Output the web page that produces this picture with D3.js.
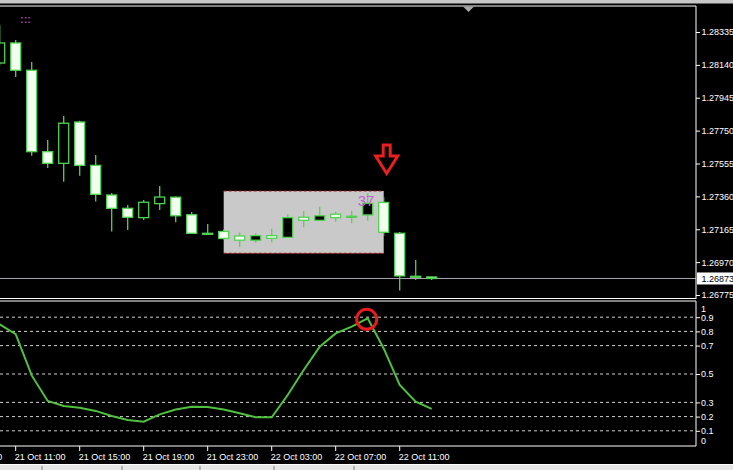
<!DOCTYPE html>
<html><head><meta charset="utf-8">
<script src="https://cdn.jsdelivr.net/npm/d3@7"></script>
<style>html,body{margin:0;padding:0;background:#000;overflow:hidden}svg{display:block}</style>
</head><body>
<svg id="c" width="733" height="470"></svg>
<script>
const times = ["21 Oct 10:00","21 Oct 11:00","21 Oct 12:00","21 Oct 13:00","21 Oct 14:00","21 Oct 15:00","21 Oct 16:00","21 Oct 17:00","21 Oct 18:00","21 Oct 19:00","21 Oct 20:00","21 Oct 21:00","21 Oct 22:00","21 Oct 23:00",
"22 Oct 00:00","22 Oct 01:00","22 Oct 02:00","22 Oct 03:00","22 Oct 04:00","22 Oct 05:00","22 Oct 06:00","22 Oct 07:00","22 Oct 08:00","22 Oct 09:00","22 Oct 10:00","22 Oct 11:00","22 Oct 12:00","22 Oct 13:00"];
const open  = [1.28151,1.28270,1.28108,1.27625,1.27556,1.27801,1.27544,1.27368,1.27289,1.27234,1.27317,1.27355,1.27251,1.27141,1.27152,1.27125,1.27100,1.27127,1.27117,1.27236,1.27218,1.27254,1.27237,1.27250,1.27324,1.27141,1.26886,1.26882];
const high  = [1.28377,1.28288,1.28157,1.27694,1.27837,1.27809,1.27605,1.27380,1.27309,1.27339,1.27422,1.27359,1.27267,1.27196,1.27164,1.27145,1.27141,1.27168,1.27254,1.27273,1.27299,1.27269,1.27275,1.27378,1.27356,1.27149,1.26983,1.26885];
const low   = [1.28139,1.28068,1.27601,1.27528,1.27447,1.27483,1.27329,1.27151,1.27161,1.27220,1.27279,1.27206,1.27140,1.27134,1.27104,1.27060,1.27085,1.27088,1.27116,1.27177,1.27217,1.27210,1.27200,1.27216,1.27125,1.26801,1.26864,1.26864];
const close = [1.28270,1.28108,1.27625,1.27556,1.27794,1.27544,1.27372,1.27289,1.27236,1.27325,1.27356,1.27245,1.27141,1.27139,1.27110,1.27100,1.27127,1.27111,1.27234,1.27218,1.27245,1.27234,1.27242,1.27319,1.27147,1.26888,1.26882,1.26873];
const osc = [0.85,0.78,0.49,0.31,0.275,0.263,0.24,0.204,0.176,0.164,0.216,0.25,0.27,0.268,0.25,0.223,0.195,0.195,0.352,0.528,0.692,0.786,0.833,0.892,0.68,0.423,0.305,0.254];
const priceTicks = [1.28335,1.28140,1.27945,1.27750,1.27555,1.27360,1.27165,1.26970,1.26775];
const bidPrice = 1.26873;
const oscLevels = [0.9,0.8,0.7,0.5,0.3,0.2,0.1];
const oscLabelVals = [1,0.9,0.8,0.7,0.5,0.3,0.2,0.1,0];
const timeTicks = ["21 Oct 07:00","21 Oct 11:00","21 Oct 15:00","21 Oct 19:00","21 Oct 23:00","22 Oct 03:00","22 Oct 07:00","22 Oct 11:00"];
const boxFrom = "22 Oct 00:00", boxTo = "22 Oct 10:00", boxTop = 1.27392, boxBottom = 1.27022;
const signalTime = "22 Oct 10:00", arrowTop = 1.27665, arrowTip = 1.27496;
const countLabel = "37", countTime = "22 Oct 09:00";
const peakTime = "22 Oct 09:00";

const toHour = s => { const p = s.split(" "); const hm = p[2].split(":"); return (+p[0]-21)*24 + (+hm[0]); };
const svg = d3.select("#c");
const W = 733, FR = 696;
const x = d3.scaleLinear().domain([10,37]).range([-0.3,431.7]);
const y = d3.scaleLinear().domain([1.26775,1.28335]).range([295,32]);
const yo = d3.scaleLinear().domain([0,1]).range([445,303]);
const GREEN = "#52d252", FONT = "Liberation Sans, Arial, sans-serif";

svg.append("rect").attr("width",W).attr("height",470).attr("fill","#000");
svg.append("rect").attr("x",0).attr("y",0).attr("width",W).attr("height",3.5).attr("fill","#c8c8c8");

const defs = svg.append("defs");
defs.append("clipPath").attr("id","mc").append("rect").attr("x",0).attr("y",7).attr("width",FR).attr("height",291);
defs.append("clipPath").attr("id","oc").append("rect").attr("x",0).attr("y",302).attr("width",FR).attr("height",143.5);
const main = svg.append("g").attr("clip-path","url(#mc)");

const bx0 = x(toHour(boxFrom)), bx1 = x(toHour(boxTo));
main.append("rect").attr("x",bx0).attr("y",y(boxTop)).attr("width",bx1-bx0).attr("height",y(boxBottom)-y(boxTop)).attr("fill","#c9c9c9");
[boxTop,boxBottom].forEach(p=>main.append("line").attr("x1",bx0).attr("x2",bx1).attr("y1",y(p)).attr("y2",y(p))
  .attr("stroke","#9a1a1a").attr("stroke-width",1.2).attr("stroke-dasharray","3,2"));

main.append("line").attr("x1",0).attr("x2",FR).attr("y1",y(bidPrice)).attr("y2",y(bidPrice)).attr("stroke","#a8a8b0").attr("stroke-width",1);

const data = times.map((t,i)=>({t,o:open[i],h:high[i],l:low[i],c:close[i]}));
const cg = main.append("g").selectAll("g").data(data).join("g");
cg.append("line").attr("x1",d=>x(toHour(d.t))).attr("x2",d=>x(toHour(d.t)))
  .attr("y1",d=>y(d.h)).attr("y2",d=>y(d.l)).attr("stroke",GREEN).attr("stroke-width",1.3);
cg.append("rect")
  .attr("x",d=>x(toHour(d.t))-5).attr("width",10)
  .attr("y",d=>y(Math.max(d.o,d.c))).attr("height",d=>Math.max(1,Math.abs(y(d.o)-y(d.c))))
  .attr("fill",d=>d.c<d.o?"#f2fff0":"#000").attr("stroke",GREEN).attr("stroke-width",1.3);

main.append("text").attr("x",x(toHour(countTime))-10).attr("y",205.5).text(countLabel)
  .attr("font-family",FONT).attr("font-size",15).attr("fill","#c062d0");

const ax = x(toHour(signalTime))+3, at = y(arrowTop), tip = y(arrowTip), hy = at+11;
main.append("path").attr("d",`M${ax-3.5},${at} L${ax+3.5},${at} L${ax+3.5},${hy} L${ax+11},${hy} L${ax},${tip} L${ax-11},${hy} L${ax-3.5},${hy} Z`)
  .attr("fill","#000").attr("stroke","#e82020").attr("stroke-width",3).attr("stroke-linejoin","miter");

svg.append("text").attr("x",20).attr("y",23).text(":::").attr("font-family",FONT).attr("font-size",11).attr("font-weight","bold").attr("fill","#a04a9a");

svg.append("line").attr("x1",0).attr("x2",FR).attr("y1",6).attr("y2",6).attr("stroke","#fff");
svg.append("line").attr("x1",FR).attr("x2",FR).attr("y1",6).attr("y2",299).attr("stroke","#fff");
svg.append("line").attr("x1",0).attr("x2",FR).attr("y1",298.5).attr("y2",298.5).attr("stroke","#fff");
svg.append("line").attr("x1",0).attr("x2",FR).attr("y1",301).attr("y2",301).attr("stroke","#fff");
svg.append("line").attr("x1",FR).attr("x2",FR).attr("y1",301).attr("y2",446).attr("stroke","#fff");
svg.append("line").attr("x1",0).attr("x2",FR).attr("y1",446).attr("y2",446).attr("stroke","#fff");
svg.append("path").attr("d","M463,6.5 L474,6.5 L468.5,12 Z").attr("fill","#a8a8a8");

const pa = svg.append("g").attr("transform",`translate(${FR},0)`)
  .call(d3.axisRight(y).tickValues(priceTicks).tickFormat(d3.format(".5f")).tickSize(4).tickPadding(1.5));
pa.select(".domain").remove();
pa.selectAll("line").attr("stroke","#fff");
pa.selectAll("text").attr("fill","#fff").attr("font-family",FONT).attr("font-size",9);
svg.append("rect").attr("x",697).attr("y",y(bidPrice)-6).attr("width",36).attr("height",12).attr("fill","#fff");
svg.append("text").attr("x",701.5).attr("y",y(bidPrice)+3.3).text(d3.format(".5f")(bidPrice))
  .attr("font-family",FONT).attr("font-size",9).attr("fill","#000");

const og = svg.append("g").attr("clip-path","url(#oc)");
og.selectAll("line.lv").data(oscLevels).join("line").attr("class","lv")
  .attr("x1",0).attr("x2",FR).attr("y1",d=>yo(d)).attr("y2",d=>yo(d))
  .attr("stroke","#d0d0d0").attr("stroke-width",1).attr("stroke-dasharray","3,3");
og.append("path").datum(osc.map((v,i)=>[x(toHour(times[i])),yo(v)]))
  .attr("d",d3.line()).attr("fill","none").attr("stroke","#4fc040").attr("stroke-width",2);
const pi = times.indexOf(peakTime);
og.append("circle").attr("cx",x(toHour(peakTime))-1).attr("cy",yo(osc[pi])+1).attr("r",10)
  .attr("fill","none").attr("stroke","#e81c1c").attr("stroke-width",3);

const oa = svg.append("g").attr("transform",`translate(${FR},0)`)
  .call(d3.axisRight(yo).tickValues(oscLevels).tickFormat("").tickSize(4));
oa.select(".domain").remove();
oa.selectAll("line").attr("stroke","#fff");
svg.append("g").selectAll("text").data(oscLabelVals).join("text")
  .attr("x",701).attr("y",d=> d===1 ? 311.5 : d===0 ? 444 : yo(d)+3.3)
  .text(d=>d3.format("")(d)).attr("font-family",FONT).attr("font-size",9).attr("fill","#fff");

const ta = svg.append("g");
timeTicks.forEach(t=>{
  const tx = x(toHour(t));
  ta.append("line").attr("x1",tx).attr("x2",tx).attr("y1",446).attr("y2",451).attr("stroke","#fff");
  ta.append("text").attr("x",tx-1).attr("y",459.5).text(t).attr("font-family",FONT).attr("font-size",9).attr("fill","#fff");
});

svg.append("rect").attr("x",0).attr("y",464.5).attr("width",W).attr("height",6).attr("fill","#e6e6e6");
svg.append("line").attr("x1",0).attr("x2",W).attr("y1",464.5).attr("y2",464.5).attr("stroke","#fff");
[42,122,200,274,354].forEach(sx=>svg.append("line").attr("x1",sx).attr("x2",sx).attr("y1",466).attr("y2",470).attr("stroke","#808080"));
</script>
</body></html>
